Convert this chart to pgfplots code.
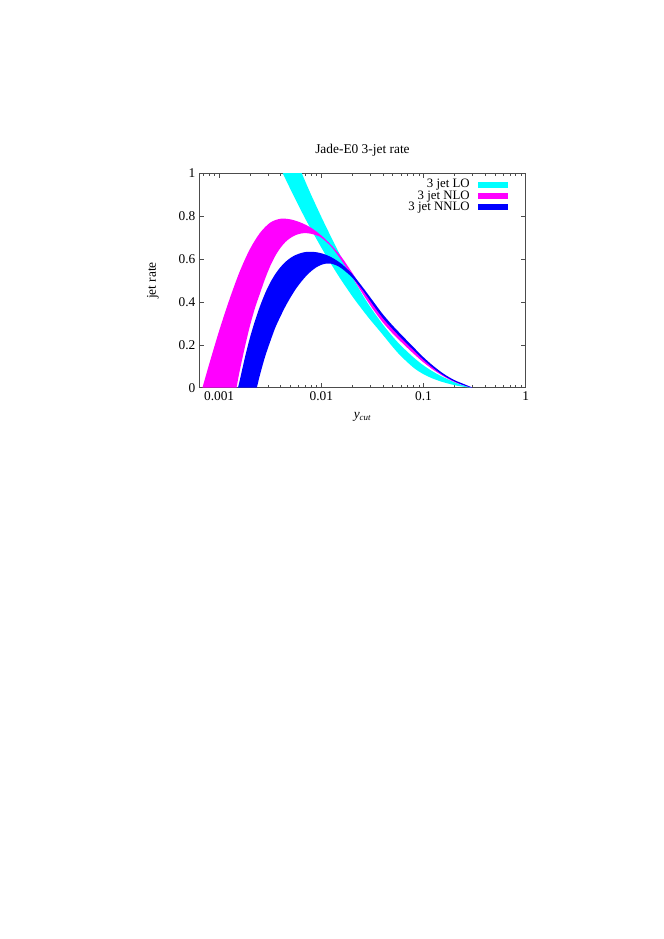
\documentclass[border=0pt]{standalone}
\usepackage{pgfplots}
\pgfplotsset{compat=1.18}
\usepackage{pgfplotstable}
\usepackage{fontspec}
\setmainfont{Liberation Serif}

\definecolor{gpcyan}{RGB}{0,255,255}
\definecolor{gpmagenta}{RGB}{255,0,255}
\definecolor{gpblue}{RGB}{0,0,255}

% each band: upper edge left to right, then lower edge back right to left
\pgfplotstableread{
x y
0.0055 1.078
0.006 1.035
0.007 0.960
0.008 0.897
0.01 0.797
0.012 0.719
0.015 0.627
0.02 0.518
0.025 0.438
0.03 0.378
0.04 0.295
0.05 0.238
0.06 0.197
0.08 0.141
0.1 0.104
0.12 0.079
0.15 0.053
0.2 0.026
0.25 0.009
0.3 0
0.25 0.004
0.2 0.012
0.15 0.028
0.12 0.045
0.1 0.063
0.08 0.093
0.06 0.148
0.05 0.19
0.04 0.247
0.035 0.28
0.03 0.318
0.025 0.366
0.02 0.428
0.015 0.516
0.012 0.590
0.01 0.654
0.008 0.736
0.007 0.787
0.006 0.849
0.005 0.925
0.0042 1.0
0.0035 1.082
}\lo
\pgfplotstableread{
x y
0.000687 0
0.000794 0.105
0.001 0.265
0.001259 0.41
0.001585 0.54
0.001995 0.645
0.002512 0.722
0.003162 0.77
0.003981 0.788
0.005012 0.785
0.00631 0.77
0.007943 0.746
0.01 0.71
0.012589 0.664
0.015849 0.608
0.019953 0.538
0.025119 0.464
0.031623 0.394
0.039811 0.33
0.050119 0.276
0.063096 0.227
0.079433 0.18
0.1 0.134
0.125893 0.094
0.158489 0.06
0.199526 0.033
0.251189 0.014
0.3 0
0.251189 0.01
0.199526 0.027
0.158489 0.052
0.125893 0.082
0.1 0.118
0.079433 0.16
0.063096 0.205
0.050119 0.252
0.039811 0.306
0.031623 0.37
0.025119 0.442
0.019953 0.518
0.015849 0.592
0.012589 0.656
0.01 0.70
0.008913 0.711
0.007943 0.718
0.007079 0.721
0.00631 0.719
0.005623 0.712
0.005012 0.699
0.004467 0.68
0.003981 0.652
0.003548 0.615
0.003162 0.567
0.002818 0.508
0.002512 0.44
0.002239 0.37
0.001995 0.285
0.001778 0.185
0.001585 0.075
0.00148 0
}\nlo
\pgfplotstableread{
x y
0.001531 0
0.001585 0.03
0.001778 0.135
0.001995 0.23
0.002239 0.31
0.002512 0.38
0.002818 0.44
0.003162 0.49
0.003548 0.53
0.003981 0.562
0.004467 0.587
0.005012 0.606
0.005623 0.619
0.00631 0.628
0.007079 0.633
0.007943 0.634
0.008913 0.632
0.01 0.627
0.01122 0.619
0.012589 0.608
0.014125 0.594
0.015849 0.577
0.017783 0.555
0.019953 0.532
0.025119 0.472
0.031623 0.408
0.039811 0.344
0.050119 0.289
0.063096 0.239
0.079433 0.19
0.1 0.142
0.125893 0.1
0.158489 0.064
0.199526 0.036
0.251189 0.016
0.3 0
0.251189 0.01
0.199526 0.03
0.158489 0.056
0.125893 0.09
0.1 0.13
0.079433 0.176
0.063096 0.223
0.050119 0.272
0.039811 0.326
0.031623 0.39
0.025119 0.458
0.019953 0.515
0.015849 0.556
0.014125 0.57
0.012589 0.578
0.01122 0.579
0.01 0.573
0.008913 0.561
0.007943 0.543
0.007079 0.52
0.00631 0.492
0.005623 0.46
0.005012 0.422
0.004467 0.38
0.003981 0.332
0.003548 0.28
0.003162 0.215
0.002818 0.145
0.002512 0.06
0.002339 0
}\nnlo

\begin{document}
\begin{tikzpicture}
\path[use as bounding box] (0,0) rectangle (595.3pt,841.9pt);
\begin{axis}[
    at={(178.7pt,494.3pt)}, anchor=south west,
    scale only axis,
    width=292.6pt, height=192.2pt,
    xmode=log,
    xmin=0.00064, xmax=1,
    ymin=0, ymax=1,
    font=\fontsize{12}{14}\selectfont,
    xtick={0.001,0.01,0.1,1},
    xticklabels={0.001,0.01,0.1,1},
    minor xtick={0.0007,0.0008,0.0009,0.002,0.003,0.004,0.005,0.006,0.007,0.008,0.009,
                 0.02,0.03,0.04,0.05,0.06,0.07,0.08,0.09,0.2,0.3,0.4,0.5,0.6,0.7,0.8,0.9},
    ytick={0,0.2,0.4,0.6,0.8,1},
    yticklabels={0,0.2,0.4,0.6,0.8,1},
    tick align=inside,
    major tick length=4pt, minor tick length=2pt,
    axis line style={black!70, line width=0.6pt},
    every tick/.style={black!70, line width=0.5pt},
    title={Jade-E0 3-jet rate},
    title style={at={(axis description cs:0.5,1.076)}, anchor=center},
    xlabel={\itshape y\textsubscript{cut}},
    xlabel style={at={(axis description cs:0.5,-0.137)}, anchor=center},
    ylabel={jet rate},
    ylabel style={at={(axis description cs:-0.142,0.5)}, anchor=center},
    legend plot pos=right,
    legend cell align=right,
    legend image code/.code={\fill[#1] (0pt,-2.7pt) rectangle (26.9pt,2.7pt);},
    legend style={at={(axis description cs:1,1)}, anchor=north east,
        xshift=-12.6pt, yshift=-3.4pt, draw=none, fill=none,
        font=\fontsize{11.5}{12}\selectfont,
        nodes={inner sep=0pt, text height=7.4pt, text depth=1.5pt},
        row sep=1.2pt, column sep=7.5pt},
]
\addplot[fill=gpcyan, draw=none, smooth] table {\lo} -- cycle;
\addlegendentry{3 jet LO}
\addplot[fill=gpmagenta, draw=none, smooth] table {\nlo} -- cycle;
\addlegendentry{3 jet NLO}
\addplot[fill=gpblue, draw=none, smooth] table {\nnlo} -- cycle;
\addlegendentry{3 jet NNLO}
\end{axis}
\end{tikzpicture}
\end{document}
